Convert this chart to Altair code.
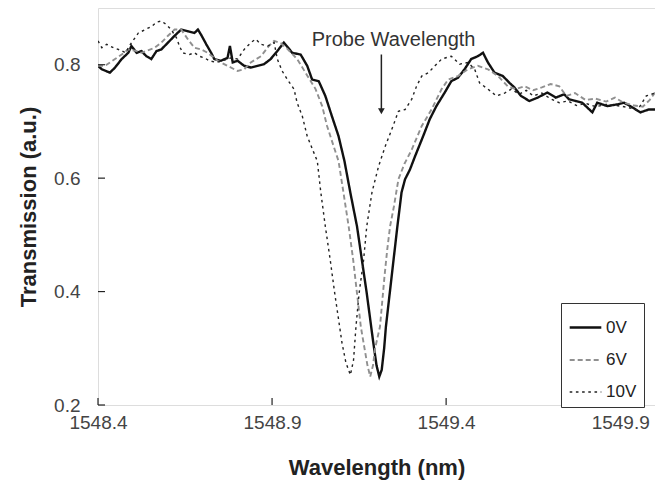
import altair as alt
import pandas as pd

FONT = "Liberation Sans"

series_names = ["0V", "6V", "10V"]

wl_0v = [1548.400, 1548.411, 1548.434, 1548.449, 1548.468, 1548.487, 1548.496, 1548.511, 1548.525, 1548.539,
         1548.553, 1548.568, 1548.582, 1548.601, 1548.620, 1548.639, 1548.658, 1548.677, 1548.687, 1548.696,
         1548.711, 1548.725, 1548.734, 1548.753, 1548.772, 1548.779, 1548.787, 1548.801, 1548.820, 1548.839,
         1548.858, 1548.877, 1548.896, 1548.915, 1548.934, 1548.958, 1548.982, 1549.001, 1549.015, 1549.034,
         1549.053, 1549.072, 1549.091, 1549.108, 1549.125, 1549.144, 1549.158, 1549.172, 1549.191, 1549.200,
         1549.208, 1549.215, 1549.222, 1549.227, 1549.238, 1549.249, 1549.260, 1549.272, 1549.282, 1549.296,
         1549.311, 1549.334, 1549.353, 1549.372, 1549.396, 1549.415, 1549.434, 1549.453, 1549.472, 1549.491,
         1549.506, 1549.520, 1549.539, 1549.563, 1549.582, 1549.596, 1549.615, 1549.639, 1549.663, 1549.691,
         1549.715, 1549.739, 1549.753, 1549.772, 1549.791, 1549.820, 1549.834, 1549.863, 1549.891, 1549.911,
         1549.929, 1549.958, 1549.982, 1550.000]
tr_0v = [0.798, 0.792, 0.786, 0.795, 0.810, 0.821, 0.833, 0.821, 0.824, 0.815,
         0.810, 0.824, 0.827, 0.839, 0.851, 0.862, 0.859, 0.856, 0.862, 0.853,
         0.836, 0.821, 0.810, 0.807, 0.812, 0.833, 0.804, 0.807, 0.798, 0.795,
         0.798, 0.801, 0.810, 0.824, 0.839, 0.821, 0.818, 0.798, 0.774, 0.771,
         0.745, 0.709, 0.674, 0.630, 0.574, 0.515, 0.456, 0.397, 0.309, 0.270,
         0.250, 0.262, 0.300, 0.338, 0.397, 0.456, 0.515, 0.575, 0.598, 0.615,
         0.639, 0.674, 0.704, 0.727, 0.751, 0.771, 0.777, 0.792, 0.810, 0.815,
         0.821, 0.804, 0.786, 0.780, 0.768, 0.760, 0.745, 0.736, 0.742, 0.751,
         0.742, 0.748, 0.739, 0.736, 0.733, 0.716, 0.733, 0.727, 0.730, 0.733,
         0.727, 0.716, 0.721, 0.721]

wl_6v = [1548.400, 1548.420, 1548.449, 1548.468, 1548.487, 1548.511, 1548.525, 1548.563, 1548.582, 1548.601,
         1548.620, 1548.639, 1548.658, 1548.677, 1548.696, 1548.715, 1548.744, 1548.772, 1548.801, 1548.820,
         1548.839, 1548.868, 1548.891, 1548.906, 1548.925, 1548.944, 1548.972, 1548.996, 1549.025, 1549.044,
         1549.058, 1549.077, 1549.091, 1549.105, 1549.120, 1549.133, 1549.144, 1549.155, 1549.163, 1549.174,
         1549.182, 1549.190, 1549.196, 1549.210, 1549.223, 1549.231, 1549.239, 1549.250, 1549.263, 1549.280,
         1549.301, 1549.330, 1549.358, 1549.387, 1549.406, 1549.434, 1549.463, 1549.491, 1549.520, 1549.549,
         1549.577, 1549.600, 1549.625, 1549.650, 1549.675, 1549.700, 1549.725, 1549.745, 1549.770, 1549.800,
         1549.830, 1549.860, 1549.885, 1549.910, 1549.940, 1549.965, 1549.985, 1550.000]
tr_6v = [0.798, 0.798, 0.810, 0.818, 0.827, 0.824, 0.821, 0.830, 0.839, 0.851,
         0.862, 0.862, 0.845, 0.830, 0.827, 0.821, 0.807, 0.798, 0.789, 0.792,
         0.804, 0.815, 0.833, 0.842, 0.838, 0.828, 0.810, 0.786, 0.757, 0.727,
         0.692, 0.656, 0.630, 0.575, 0.515, 0.456, 0.397, 0.338, 0.309, 0.270,
         0.250, 0.270, 0.300, 0.338, 0.427, 0.475, 0.515, 0.550, 0.598, 0.625,
         0.650, 0.692, 0.721, 0.757, 0.774, 0.780, 0.792, 0.798, 0.792, 0.780,
         0.762, 0.757, 0.762, 0.755, 0.760, 0.766, 0.762, 0.745, 0.750, 0.738,
         0.740, 0.735, 0.742, 0.733, 0.728, 0.726, 0.738, 0.751]

wl_10v = [1548.400, 1548.411, 1548.425, 1548.444, 1548.463, 1548.479, 1548.493, 1548.507, 1548.516, 1548.536,
          1548.555, 1548.568, 1548.582, 1548.596, 1548.610, 1548.625, 1548.634, 1548.643, 1548.663, 1548.677,
          1548.691, 1548.706, 1548.720, 1548.739, 1548.758, 1548.782, 1548.801, 1548.820, 1548.839, 1548.853,
          1548.868, 1548.887, 1548.906, 1548.915, 1548.929, 1548.944, 1548.963, 1548.972, 1548.987, 1549.001,
          1549.020, 1549.030, 1549.040, 1549.053, 1549.067, 1549.080, 1549.101, 1549.112, 1549.125, 1549.134,
          1549.141, 1549.150, 1549.163, 1549.172, 1549.187, 1549.206, 1549.225, 1549.244, 1549.263, 1549.282,
          1549.301, 1549.315, 1549.330, 1549.349, 1549.368, 1549.387, 1549.415, 1549.439, 1549.463, 1549.482,
          1549.496, 1549.520, 1549.544, 1549.568, 1549.587, 1549.610, 1549.630, 1549.650, 1549.675, 1549.700,
          1549.725, 1549.750, 1549.775, 1549.800, 1549.830, 1549.860, 1549.890, 1549.920, 1549.950, 1549.975,
          1550.000]
tr_10v = [0.842, 0.830, 0.836, 0.830, 0.826, 0.821, 0.836, 0.848, 0.856, 0.862,
          0.868, 0.875, 0.877, 0.871, 0.862, 0.848, 0.833, 0.821, 0.818, 0.821,
          0.815, 0.812, 0.807, 0.804, 0.807, 0.812, 0.810, 0.827, 0.839, 0.845,
          0.836, 0.833, 0.839, 0.810, 0.789, 0.774, 0.757, 0.733, 0.709, 0.674,
          0.645, 0.630, 0.575, 0.515, 0.456, 0.397, 0.309, 0.275, 0.253, 0.279,
          0.338, 0.397, 0.456, 0.515, 0.575, 0.621, 0.656, 0.686, 0.718, 0.721,
          0.739, 0.762, 0.780, 0.786, 0.798, 0.810, 0.815, 0.801, 0.804, 0.792,
          0.768, 0.757, 0.745, 0.750, 0.757, 0.748, 0.755, 0.745, 0.750, 0.740,
          0.733, 0.736, 0.728, 0.732, 0.726, 0.730, 0.728, 0.725, 0.720, 0.745,
          0.750]

x_ticks = [1548.4, 1548.9, 1549.4, 1549.9]
y_ticks = [0.2, 0.4, 0.6, 0.8]

line_colors = ["#111111", "#909090", "#222222"]
line_dashes = [[1, 0], [5, 3], [2.6, 3.6]]
line_widths = [2.4, 1.4, 2.8]

annot_text = ["Probe Wavelength"]
annot_x = [1549.249]
annot_y = [0.843]
arrow_x = [1549.214]
arrow_top = [0.818]
arrow_bottom = [0.722]
arrow_head = [0.718]

rows = []
for name, wl, tr in [("0V", wl_0v, tr_0v), ("6V", wl_6v, tr_6v), ("10V", wl_10v, tr_10v)]:
    for a, b in zip(wl, tr):
        rows.append({"series": name, "wavelength": a, "transmission": b})
df = pd.DataFrame(rows)

W, H = 557, 397

xscale = alt.Scale(domain=[1548.4, 1550.0], nice=False, zero=False)
yscale = alt.Scale(domain=[0.2, 0.9], nice=False, zero=False)

xaxis = alt.Axis(values=x_ticks, format=".1f", title="Wavelength (nm)",
                 ticks=False, grid=False, domain=False, labelFlush=False, labelOverlap=False,
                 labelFontSize=19, labelFont=FONT, labelColor="#444444", labelPadding=8,
                 titleFontSize=22, titleFont=FONT, titleFontWeight="bold", titleColor="#222222",
                 titlePadding=25)
yaxis = alt.Axis(values=y_ticks, format=".1f", title="Transmission (a.u.)",
                 ticks=False, grid=False, domain=False, labelFlush=False, labelOverlap=False,
                 labelFontSize=19, labelFont=FONT, labelColor="#444444", labelPadding=18,
                 titleFontSize=22, titleFont=FONT, titleFontWeight="bold", titleColor="#222222",
                 titlePadding=13)

leg = alt.Legend(
    title=None, orient="none", legendX=463, legendY=295,
    symbolType="stroke", symbolSize=1000, symbolStrokeWidth=2,
    labelFontSize=17, labelFont=FONT, labelColor="#222222", labelOffset=3,
    rowPadding=7, padding=7, strokeColor="#333333", fillColor="white",
)

lines = alt.Chart(df).mark_line(clip=True).encode(
    x=alt.X("wavelength:Q", scale=xscale, axis=xaxis),
    y=alt.Y("transmission:Q", scale=yscale, axis=yaxis),
    color=alt.Color("series:N", scale=alt.Scale(domain=series_names, range=line_colors), legend=leg),
    strokeDash=alt.StrokeDash("series:N", scale=alt.Scale(domain=series_names, range=line_dashes), legend=leg),
    strokeWidth=alt.StrokeWidth("series:N", scale=alt.Scale(domain=series_names, range=line_widths), legend=None),
)

xt = pd.DataFrame({"wavelength": x_ticks})
yt = pd.DataFrame({"transmission": y_ticks})
xtick_rules = alt.Chart(xt).mark_rule(color="#222222", strokeWidth=1.2).encode(
    x=alt.X("wavelength:Q", scale=xscale, axis=xaxis), y=alt.value(H), y2=alt.value(H - 7))
ytick_rules = alt.Chart(yt).mark_rule(color="#222222", strokeWidth=1.2).encode(
    y=alt.Y("transmission:Q", scale=yscale, axis=yaxis), x=alt.value(0), x2=alt.value(7))

arrow_df = pd.DataFrame({"wavelength": arrow_x, "transmission": arrow_top, "y2": arrow_bottom})
head_df = pd.DataFrame({"wavelength": arrow_x, "transmission": arrow_head})
arrow_line = alt.Chart(arrow_df).mark_rule(color="#222222", strokeWidth=1.5).encode(
    x=alt.X("wavelength:Q", scale=xscale, axis=xaxis),
    y=alt.Y("transmission:Q", scale=yscale, axis=yaxis), y2="y2:Q")
arrow_tip = alt.Chart(head_df).mark_point(shape="triangle-down", filled=True, size=45,
                                          color="#222222", opacity=1).encode(
    x=alt.X("wavelength:Q", scale=xscale, axis=xaxis),
    y=alt.Y("transmission:Q", scale=yscale, axis=yaxis))

text_df = pd.DataFrame({"wavelength": annot_x, "transmission": annot_y, "label": annot_text})
annot = alt.Chart(text_df).mark_text(fontSize=20, font=FONT, color="#333333", align="center",
                                     baseline="middle").encode(
    x=alt.X("wavelength:Q", scale=xscale, axis=xaxis),
    y=alt.Y("transmission:Q", scale=yscale, axis=yaxis), text="label:N")

chart = alt.layer(lines, xtick_rules, ytick_rules, arrow_line, arrow_tip, annot).properties(
    width=W, height=H,
    autosize=alt.AutoSizeParams(type="none"),
    padding={"left": 90, "top": 0, "right": 0, "bottom": 78},
).configure_view(stroke="#111111", strokeWidth=1.6).configure(background="white")

chart.save("out.html", embed_options={"renderer": "svg", "actions": False})
